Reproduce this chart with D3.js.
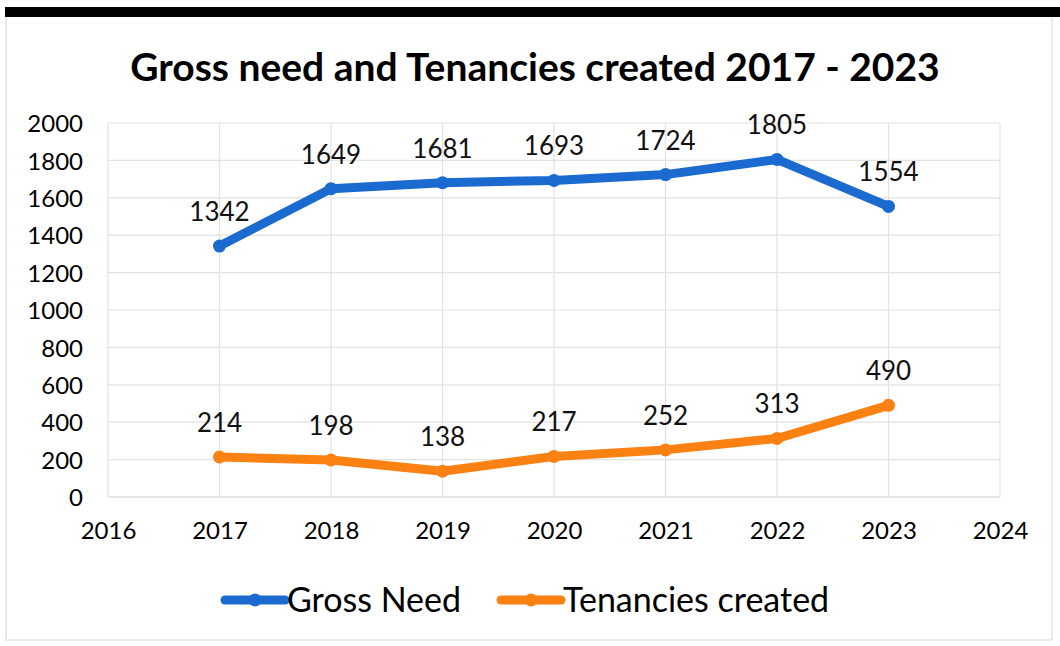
<!DOCTYPE html>
<html>
<head>
<meta charset="utf-8">
<script src="https://cdn.jsdelivr.net/npm/d3@7"></script>
<style>
  html, body { margin:0; padding:0; background:#fff; }
  svg { display:block; font-family: Lato, "Noto Sans", sans-serif; }
</style>
</head>
<body>
<div id="chart"></div>
<script>
// Gross need vs tenancies created, 2017-2023
const years = [2017, 2018, 2019, 2020, 2021, 2022, 2023];
const grossNeed = [1342, 1649, 1681, 1693, 1724, 1805, 1554];
const tenancies = [214, 198, 138, 217, 252, 313, 490];
const yTicks = [0, 200, 400, 600, 800, 1000, 1200, 1400, 1600, 1800, 2000];
const xTicks = [2016, 2017, 2018, 2019, 2020, 2021, 2022, 2023, 2024];
const seriesNames = ['Gross Need', 'Tenancies created'];
const seriesColors = ['#1a6ad0', '#fb8113'];

(function(){
  const width = 1060, height = 646;
  const margin = {top:123, right:60, bottom:149, left:108};
  const innerW = width - margin.left - margin.right;
  const innerH = height - margin.top - margin.bottom;

  const svg = d3.select('#chart').append('svg')
    .attr('width', width)
    .attr('height', height);

  // outer frame + black bar on top
  svg.append('rect')
    .attr('x', 6).attr('y', 12)
    .attr('width', 1046).attr('height', 628)
    .attr('fill', 'none')
    .attr('stroke', '#e4e4e4')
    .attr('stroke-width', 1.5);
  svg.append('rect')
    .attr('x', 5).attr('y', 7)
    .attr('width', 1055).attr('height', 10)
    .attr('fill', '#000');

  // title
  svg.append('text')
    .attr('x', 535)
    .attr('y', 81)
    .attr('text-anchor', 'middle')
    .attr('font-size', '39px')
    .attr('font-weight', 'bold')
    .attr('fill', '#000')
    .text('Gross need and Tenancies created 2017 - 2023');

  const g = svg.append('g')
    .attr('transform', `translate(${margin.left},${margin.top})`);

  const x = d3.scaleLinear()
    .domain([2016, 2024])
    .range([0, innerW]);

  const y = d3.scaleLinear()
    .domain([0, 2000])
    .range([innerH, 0]);

  // gridlines
  g.append('g')
    .selectAll('line.h')
    .data(yTicks)
    .enter().append('line')
    .attr('x1', 0).attr('x2', innerW)
    .attr('y1', d => y(d)).attr('y2', d => y(d))
    .attr('stroke', d => d === 0 ? '#cfcfcf' : '#e2e2e2')
    .attr('stroke-width', 1.2);
  g.append('g')
    .selectAll('line.v')
    .data(xTicks)
    .enter().append('line')
    .attr('x1', d => x(d)).attr('x2', d => x(d))
    .attr('y1', 0).attr('y2', innerH)
    .attr('stroke', '#e2e2e2')
    .attr('stroke-width', 1.2);

  // axes (labels only)
  const yAxis = g.append('g')
    .call(d3.axisLeft(y).tickValues(yTicks).tickSize(0).tickPadding(25).tickFormat(d3.format('d')));
  const xAxis = g.append('g')
    .attr('transform', `translate(0,${innerH})`)
    .call(d3.axisBottom(x).tickValues(xTicks).tickSize(0).tickPadding(25).tickFormat(d3.format('d')));
  [yAxis, xAxis].forEach(a => {
    a.select('.domain').remove();
    a.selectAll('text')
      .attr('font-family', 'Lato, "Noto Sans", sans-serif')
      .attr('font-size', '24px')
      .attr('fill', '#000');
  });
  yAxis.selectAll('text').attr('dy', '0.36em');

  // lines
  const series = [grossNeed, tenancies];
  const line = d3.line()
    .x((d, i) => x(years[i]))
    .y(d => y(d));

  series.forEach((vals, s) => {
    g.append('path')
      .datum(vals)
      .attr('d', line)
      .attr('fill', 'none')
      .attr('stroke', seriesColors[s])
      .attr('stroke-width', 9)
      .attr('stroke-linejoin', 'round')
      .attr('stroke-linecap', 'round');

    g.selectAll(null)
      .data(vals)
      .enter().append('circle')
      .attr('cx', (d, i) => x(years[i]))
      .attr('cy', d => y(d))
      .attr('r', 6.5)
      .attr('fill', seriesColors[s]);

    g.selectAll(null)
      .data(vals)
      .enter().append('text')
      .attr('x', (d, i) => x(years[i]))
      .attr('y', d => y(d) - 25)
      .attr('text-anchor', 'middle')
      .attr('font-size', '26px')
      .attr('fill', '#111')
      .text(d => d);
  });

  // legend
  const legendX = [225, 501];
  seriesNames.forEach((name, s) => {
    const lg = svg.append('g')
      .attr('transform', `translate(${legendX[s]},600)`);
    lg.append('line')
      .attr('x1', 0).attr('x2', 60)
      .attr('y1', 0).attr('y2', 0)
      .attr('stroke', seriesColors[s])
      .attr('stroke-width', 9)
      .attr('stroke-linecap', 'round');
    lg.append('circle')
      .attr('cx', 30).attr('cy', 0)
      .attr('r', 6.5)
      .attr('fill', seriesColors[s]);
    lg.append('text')
      .attr('x', 62)
      .attr('y', 0)
      .attr('dy', '0.36em')
      .attr('font-size', '34px')
      .attr('fill', '#000')
      .text(name);
  });
})();
</script>
</body>
</html>
